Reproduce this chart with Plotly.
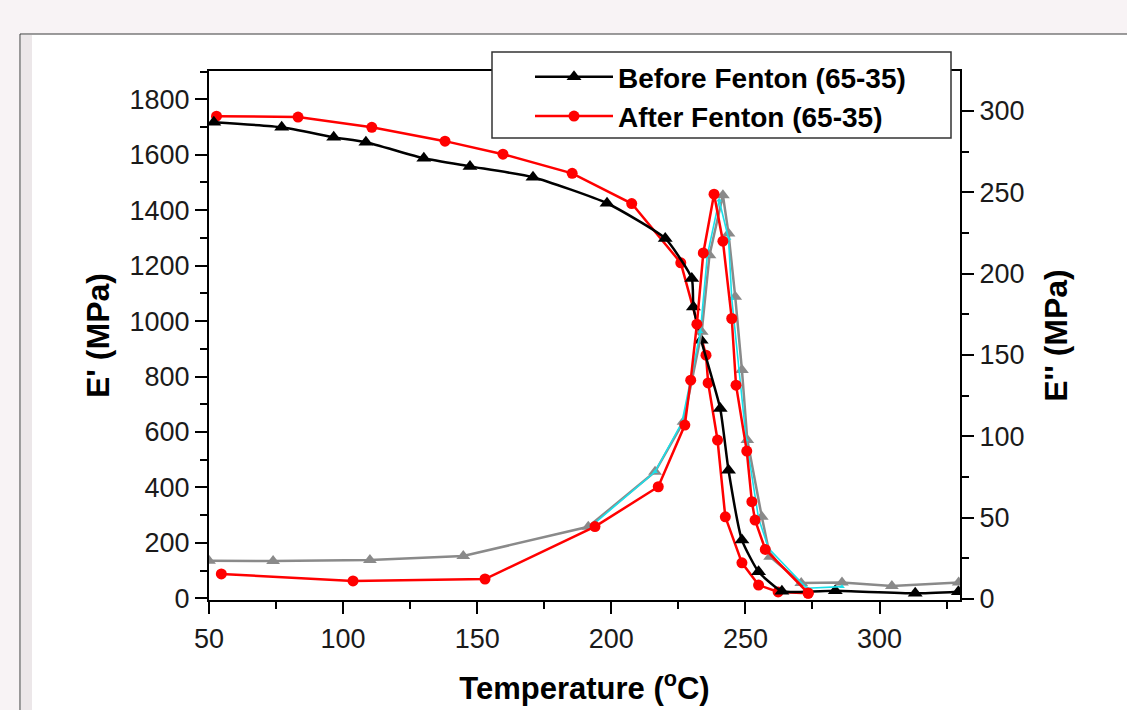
import plotly.graph_objects as go

# ---------------- data ----------------
# Before Fenton (65-35): storage modulus E' (MPa)
before_T = [51.8, 77.1, 96.5, 108.5, 130.1, 147.3, 170.8, 198.4, 220.1, 230.0,
            230.6, 233.5, 240.6, 243.7, 248.7, 254.9, 263.6, 283.5, 313.3, 329.4]
before_E1 = [1717, 1699, 1663, 1645, 1587, 1558, 1519, 1425, 1298, 1154,
             1051, 931, 685, 462, 210, 96, 26, 27, 18, 24]

# After Fenton (65-35): storage modulus E' (MPa)
after_T = [52.8, 83.2, 110.7, 138.0, 159.6, 185.4, 207.6, 225.9, 235.3, 236.1,
           239.6, 242.5, 248.7, 254.9, 262.2, 273.4]
after_E1 = [1739, 1736, 1699, 1649, 1602, 1533, 1424, 1210, 877, 777,
            571, 294, 128, 48, 23, 18]

# Before Fenton: loss modulus E'' (MPa) (grey)
before_E2_T = [50.0, 73.9, 110.0, 144.8, 191.4, 216.3, 226.9, 233.7, 236.6, 241.6,
               243.7, 246.2, 248.7, 250.7, 256.1, 259.2, 270.8, 286.0, 304.6, 329.5]
before_E2 = [23.5, 23.3, 24.0, 26.4, 44.4, 78.2, 108.9, 164.2, 211.3, 248.2,
             224.6, 185.7, 140.7, 97.7, 50.6, 26.0, 9.8, 10.1, 8.0, 10.1]

# Companion loss-modulus trace (cyan)
cyan_T = [192.5, 216.3, 226.3, 233.2, 235.8, 240.2, 243.7, 244.9, 250.3, 254.9, 258.6, 272.9, 286.0]
cyan_E2 = [44.8, 78.2, 108.4, 164.2, 211.3, 245.1, 221.6, 184.7, 97.7, 49.6, 31.1, 6.6, 7.6]

# After Fenton: loss modulus E'' (MPa) (red)
after_E2_T = [54.6, 103.7, 152.9, 193.9, 217.5, 227.4, 229.6, 231.9, 234.3, 238.3,
              241.6, 244.9, 246.5, 250.5, 252.4, 253.6, 257.4, 273.4]
after_E2 = [15.4, 11.1, 12.3, 44.5, 69.0, 106.9, 134.5, 168.9, 212.7, 248.8,
            219.9, 172.4, 131.4, 90.9, 59.8, 48.5, 30.5, 3.7]

x_ticks = [50, 100, 150, 200, 250, 300]
y1_ticks = [0, 200, 400, 600, 800, 1000, 1200, 1400, 1600, 1800]
y2_ticks = [0, 50, 100, 150, 200, 250, 300]

# ---------------- figure ----------------
FONT = "Liberation Sans, Arial, sans-serif"
fig = go.Figure()

fig.add_trace(go.Scatter(
    x=before_E2_T, y=before_E2, yaxis="y2", mode="lines+markers",
    line=dict(color="#8a8a8a", width=2.5),
    marker=dict(symbol="triangle-up", size=12, color="#8a8a8a"),
    showlegend=False, hoverinfo="skip"))
fig.add_trace(go.Scatter(
    x=cyan_T, y=cyan_E2, yaxis="y2", mode="lines+markers",
    line=dict(color="#19e0ea", width=1.6),
    marker=dict(symbol="triangle-up", size=5, color="#19e0ea"),
    showlegend=False, hoverinfo="skip"))
fig.add_trace(go.Scatter(
    x=after_E2_T, y=after_E2, yaxis="y2", mode="lines+markers",
    line=dict(color="#ff0000", width=2.5),
    marker=dict(symbol="circle", size=11, color="#ff0000"),
    showlegend=False, hoverinfo="skip"))

fig.add_trace(go.Scatter(
    x=after_T, y=after_E1, mode="lines+markers", name="After Fenton (65-35)",
    line=dict(color="#ff0000", width=2.5),
    marker=dict(symbol="circle", size=11, color="#ff0000"),
    legendrank=2))
fig.add_trace(go.Scatter(
    x=before_T, y=before_E1, mode="lines+markers", name="Before Fenton (65-35)",
    line=dict(color="#000000", width=2.5, shape="spline", smoothing=0.5),
    marker=dict(symbol="triangle-up", size=13, color="#000000"),
    legendrank=1))

# frame of the embedded picture (paper coordinates relative to plot area)
L, R, T_, B = 209, 167, 71, 110
W, H = 1127, 710
pw, ph = W - L - R, H - T_ - B
def px_x(p):
    return (p - L) / pw
def px_y(p):
    return (H - B - p) / ph

fig.add_shape(type="rect", xref="paper", yref="paper", layer="below",
              x0=px_x(20), x1=px_x(1135), y0=px_y(720), y1=px_y(34),
              fillcolor="white", line=dict(color="#3a3a3a", width=1))
fig.add_shape(type="rect", xref="paper", yref="paper", layer="below",
              x0=px_x(21), x1=px_x(32), y0=px_y(720), y1=px_y(35),
              fillcolor="#ece7e9", line=dict(width=0))
# legend box
fig.add_shape(type="rect", xref="paper", yref="paper", layer="above",
              x0=px_x(492), x1=px_x(951), y0=px_y(138), y1=px_y(52),
              fillcolor="white", line=dict(color="#333333", width=1.5))

axis_common = dict(
    showline=True, linecolor="black", linewidth=2,
    ticks="outside", ticklen=12, tickwidth=2, tickcolor="black",
    showgrid=False, zeroline=False,
    tickfont=dict(family=FONT, size=27, color="#1a1a1a"),
)

fig.update_layout(
    width=W, height=H,
    margin=dict(l=L, r=R, t=T_, b=B, autoexpand=False),
    paper_bgcolor="#f8f3f5", plot_bgcolor="white",
    font=dict(family=FONT, color="#111"),
    xaxis=dict(range=[50, 330], tickvals=x_ticks, mirror=True, ticklabelstandoff=2,
               minor=dict(dtick=25, tick0=50, ticklen=7, tickwidth=2, ticks="outside", tickcolor="black"),
               title=dict(text="<b>Temperature (<sup>o</sup>C)</b>", standoff=24,
                          font=dict(family=FONT, size=31, color="black")),
               **axis_common),
    yaxis=dict(range=[-6, 1902], tickvals=y1_ticks,
               minor=dict(dtick=100, tick0=0, ticklen=7, tickwidth=2, ticks="outside", tickcolor="black"),
               title=dict(text="<b>E' (MPa)</b>", standoff=10,
                          font=dict(family=FONT, size=32, color="black")),
               **axis_common),
    yaxis2=dict(range=[-0.6, 324.5], tickvals=y2_ticks, overlaying="y", side="right",
                anchor="x",
                minor=dict(dtick=25, tick0=0, ticklen=7, tickwidth=2, ticks="outside", tickcolor="black"),
                title=dict(text="<b>E'' (MPa)</b>", standoff=21,
                           font=dict(family=FONT, size=32, color="black")),
                **axis_common),
    legend=dict(x=px_x(530), y=px_y(52), xanchor="left", yanchor="top",
                bgcolor="rgba(0,0,0,0)", borderwidth=0,
                font=dict(family=FONT, size=28, color="black", weight="bold"),
                itemwidth=78, traceorder="normal", tracegroupgap=0),
    showlegend=True,
)

fig.write_html("out.html")
